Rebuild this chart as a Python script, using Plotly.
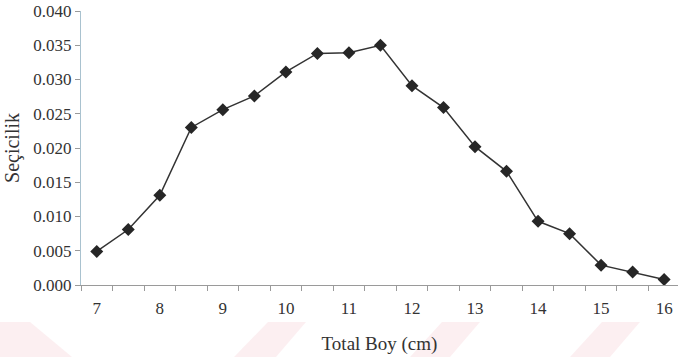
import plotly.graph_objects as go

length_cm = [7, 7.5, 8, 8.5, 9, 9.5, 10, 10.5, 11, 11.5, 12, 12.5, 13, 13.5, 14, 14.5, 15, 15.5, 16]
selectivity = [0.0049, 0.0081, 0.0131, 0.0230, 0.0256, 0.0276, 0.0311, 0.0338, 0.0339, 0.0350,
               0.0291, 0.0259, 0.0202, 0.0166, 0.0093, 0.0075, 0.0029, 0.0019, 0.0008]
x_tick_vals = [7, 8, 9, 10, 11, 12, 13, 14, 15, 16]
y_tick_vals = [0.0, 0.005, 0.010, 0.015, 0.020, 0.025, 0.030, 0.035, 0.040]
y_tick_text = ["0.000", "0.005", "0.010", "0.015", "0.020", "0.025", "0.030", "0.035", "0.040"]

W, H = 678, 357
L, R, T, B = 81, 0, 11, 72
pw, ph = W - L - R, H - T - B


def px_path(points):
    parts = []
    for k, (px, py) in enumerate(points):
        cmd = "M" if k == 0 else "L"
        parts.append(f"{cmd} {(px - L) / pw:.4f} {(H - B - py) / ph:.4f}")
    return " ".join(parts) + " Z"


fig = go.Figure()

# faint pink watermark stripes at the bottom
pink = "rgba(250,225,230,0.55)"
stripes = [
    [(0, 322), (30, 322), (72, 357), (0, 357)],
    [(268, 322), (306, 322), (276, 357), (234, 357)],
    [(442, 322), (480, 322), (450, 357), (410, 357)],
    [(602, 322), (640, 322), (610, 357), (570, 357)],
]
for pts in stripes:
    fig.add_shape(type="path", path=px_path(pts), xref="paper", yref="paper",
                  line_width=0, fillcolor=pink, layer="below")

fig.add_trace(go.Scatter(
    x=length_cm, y=selectivity, mode="lines+markers",
    line=dict(color="#333333", width=1.5),
    marker=dict(symbol="diamond", size=10, color="#262626"),
    showlegend=False, cliponaxis=False,
))

font = "Liberation Serif, Times New Roman, serif"
fig.update_layout(
    width=W, height=H,
    margin=dict(l=L, r=R, t=T, b=B, autoexpand=False),
    plot_bgcolor="white", paper_bgcolor="white",
    font=dict(family=font, color="#333333", size=17),
    xaxis=dict(
        range=[6.75, 16.22], tickvals=x_tick_vals, ticks="outside", ticklen=8,
        tickcolor="rgba(0,0,0,0)", showgrid=False, zeroline=False,
        showline=True, linecolor="#9a9a9a", linewidth=1, automargin=False,
        tickfont=dict(size=17, family=font, color="#333333"),
        minor=dict(tick0=6.75, dtick=0.5, ticks="outside", ticklen=5, tickcolor="#9a9a9a", showgrid=False),
        title=dict(text="Total Boy (cm)", font=dict(size=19, family=font, color="#333333"), standoff=19),
    ),
    yaxis=dict(
        range=[0, 0.04], tickvals=y_tick_vals, ticktext=y_tick_text, ticks="outside", ticklen=5,
        tickcolor="#9a9a9a", showgrid=False, zeroline=False, automargin=False,
        showline=True, linecolor="#a9c2cf", linewidth=1,
        tickfont=dict(size=17, family=font, color="#333333"),
        title=dict(text="Seçicilik", font=dict(size=20, family=font, color="#333333"), standoff=8),
    ),
)
fig.write_html("out.html", config={"displayModeBar": False},
               post_script="document.body.style.margin='0';document.body.style.overflow='hidden';")
